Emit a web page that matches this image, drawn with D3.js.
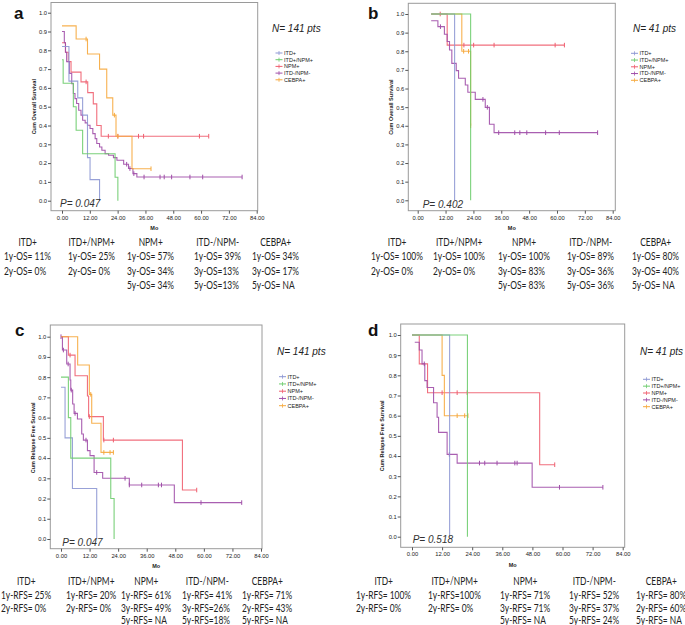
<!DOCTYPE html>
<html><head><meta charset="utf-8">
<script src="https://cdn.jsdelivr.net/npm/d3@7"></script>
<style>
html,body{margin:0;padding:0;background:#fff;}
svg{display:block;}
</style></head>
<body>
<svg id="chart" width="685" height="625"></svg>
<script>
// ---------------- DATA ----------------
const groups = ["ITD+", "ITD+/NPM+", "NPM+", "ITD-/NPM-", "CEBPA+"];
const groupColors = ["#8d97d3", "#6dcc6d", "#ef5f6f", "#a04ea8", "#f6a93d"];
const xTickValues = [0, 12, 24, 36, 48, 60, 72, 84];
const yTickValues = [0, 0.1, 0.2, 0.3, 0.4, 0.5, 0.6, 0.7, 0.8, 0.9, 1.0];
const panelLetters = ["a", "b", "c", "d"];
const panelN = ["N= 141 pts", "N= 41 pts", "N= 141 pts", "N= 41 pts"];
const panelP = ["P= 0.047", "P= 0.402", "P= 0.047", "P= 0.518"];
const panelYTitle = ["Cum Overall Survival", "Cum Overall Survival", "Cum Relapse Free Survival", "Cum Relapse Free Survival"];
const xTitle = "Mo";

// step curves: [time, survival from that time], end time, censor times
// Panel a (OS, 141 pts)
const aITD     = {steps: [[0,0.82],[3,0.636],[6.8,0.547],[8.9,0.455],[11,0.229],[12.1,0.112],[16.2,0]], end: 16.2, censor: []};
const aITDNPM  = {steps: [[0,0.75],[0.5,0.625],[4.9,0.5],[6.1,0.375],[8.9,0.25],[22.9,0.125],[24.1,0]], end: 24.1, censor: []};
const aNPM     = {steps: [[0,0.84],[1.5,0.79],[2.7,0.74],[3.9,0.684],[8.2,0.632],[11.1,0.575],[13.5,0.515],[15,0.40],[16.9,0.343]], end: 63.3, censor: [10.4,20,24.1,33,35.2,59.3,63.3]};
const aWT      = {steps: [[0,0.90],[1,0.84],[1.5,0.79],[2,0.74],[3.2,0.677],[4.2,0.623],[4.9,0.57],[5.6,0.543],[6.3,0.517],[7.2,0.481],[8.2,0.455],[8.9,0.428],[10,0.414],[11,0.401],[12.1,0.384],[13.3,0.357],[14.3,0.33],[15,0.304],[16.2,0.286],[17.2,0.268],[18.6,0.25],[20.1,0.242],[22.2,0.229],[23.7,0.215],[26.6,0.194],[28.7,0.171],[30.6,0.144],[32.3,0.126]], end: 77.7, censor: [27.9,29.3,31,35.4,42.3,44.1,47.3,55.2,60.7,77.7]};
const aCEBPA   = {steps: [[0,0.93],[6.1,0.86],[11,0.78],[16.2,0.70],[19.3,0.547],[21.9,0.455],[23.3,0.343],[30.2,0.17]], end: 38.4, censor: [10.4,22.6,24.1,38.4]};

// Panel b (OS, 41 pts)
const bITD     = {steps: [[5.8,1],[15.9,0]], end: 15.9, censor: []};
const bITDNPM  = {steps: [[5.8,1],[22.8,0]], end: 22.8, censor: []};
const bNPM     = {steps: [[5.8,1],[12.7,0.833]], end: 63.2, censor: [9.7,19.9,24.1,32.9,59.2,63.2]};
const bWT      = {steps: [[5.8,0.964],[8.7,0.932],[11.5,0.891],[12.7,0.852],[13.7,0.807],[14.7,0.735],[16.6,0.696],[17.6,0.655],[20.5,0.619],[21.6,0.58],[24.8,0.542],[29.1,0.499],[30.9,0.408],[32.9,0.363]], end: 77.5, censor: [9.8,28.1,30,34.9,41.8,44,47,55.1,61,77.5]};
const bCEBPA   = {steps: [[5.8,1],[19,0.8],[22.8,0.4]], end: 22.8, censor: [19.8,21.9,22.8]};

// Panel c (RFS, 141 pts)
const cITD     = {steps: [[0,0.75],[1.7,0.5],[4.8,0.25],[15,0]], end: 15, censor: []};
const cITDNPM  = {steps: [[0,0.8],[3.1,0.6],[4.1,0.4],[20.9,0.2],[22.3,0]], end: 22.3, censor: []};
const cNPM     = {steps: [[0,1],[3.1,0.909],[5.9,0.807],[11.1,0.707],[11.6,0.605],[17.8,0.489],[51,0.242]], end: 57, censor: [3.8,11.9,18,22,57]};
const cWT      = {steps: [[0,1],[0.6,0.934],[2.4,0.865],[3.8,0.786],[4.1,0.736],[4.9,0.667],[5.5,0.621],[6.9,0.593],[8.7,0.519],[9.4,0.489],[11.1,0.437],[12.2,0.412],[13.9,0.329],[17.5,0.30],[28.7,0.267],[47.6,0.18]], end: 75.9, censor: [0,1,3,4.3,5.9,10.5,15,26.9,28.7,33.9,40.9,42.2,58.8,75.9]};
const cCEBPA   = {steps: [[0,1],[7,0.86],[11.9,0.715],[12.9,0.572],[16.8,0.428]], end: 22, censor: [12.5,18,20.6,22]};

// Panel d (RFS, 41 pts)
const dITD     = {steps: [[0,1],[15,0]], end: 15, censor: []};
const dITDNPM  = {steps: [[0,1],[22.1,0]], end: 22.1, censor: []};
const dNPM     = {steps: [[0,1],[2.9,0.857],[6.2,0.714],[50.9,0.357]], end: 56.9, censor: [12,18,22,56.9]};
const dWT      = {steps: [[1.1,0.964],[2.9,0.926],[4,0.857],[5.1,0.774],[6,0.74],[8.6,0.664],[10,0.592],[10.6,0.517],[14,0.408],[18,0.365],[47.9,0.245]], end: 76.1, censor: [4.9,14.9,26.9,29,33.9,41,41.9,58.8,76.1]};
const dCEBPA   = {steps: [[0,1],[12,0.8],[12.9,0.6]], end: 22.3, censor: [18,21,22.3]};

// summary lines under each panel (per group, in groups order)
const aSummary = [["1y-OS= 11%","2y-OS= 0%"],["1y-OS= 25%","2y-OS= 0%"],["1y-OS= 57%","3y-OS= 34%","5y-OS= 34%"],["1y-OS= 39%","3y-OS=13%","5y-OS=13%"],["1y-OS= 34%","3y-OS= 17%","5y-OS= NA"]];
const bSummary = [["1y-OS= 100%","2y-OS= 0%"],["1y-OS= 100%","2y-OS= 0%"],["1y-OS= 100%","3y-OS= 83%","5y-OS= 83%"],["1y-OS= 89%","3y-OS= 36%","5y-OS= 36%"],["1y-OS= 80%","3y-OS= 40%","5y-OS= NA"]];
const cSummary = [["1y-RFS= 25%","2y-RFS= 0%"],["1y-RFS= 20%","2y-RFS= 0%"],["1y-RFS= 61%","3y-RFS= 49%","5y-RFS= NA"],["1y-RFS= 41%","3y-RFS=26%","5y-RFS=18%"],["1y-RFS= 71%","2y-RFS= 43%","5y-RFS= NA"]];
const dSummary = [["1y-RFS= 100%","2y-RFS= 0%"],["1y-RFS=100%","2y-RFS= 0%"],["1y-RFS= 71%","3y-RFS= 71%","5y-RFS= NA"],["1y-RFS= 52%","3y-RFS= 37%","5y-RFS= 24%"],["1y-RFS= 80%","2y-RFS= 60%","5y-RFS= NA"]];

// ---------------- LAYOUT ----------------
const panels = [
  {curves:[aITD,aITDNPM,aNPM,aWT,aCEBPA], summary:aSummary,
   frame:[51,2.5,257.7,210.7], xr:[62,256.7], yr:[200.7,12.7],
   letter:[14,19], nPos:[272,31.5], pPos:[60,207], yTitleX:34,
   legend:[275.5,53,6.7], cols:[4,68,127,194,252], rowsY:[242,256.5,271,285.5]},
  {curves:[bITD,bITDNPM,bNPM,bWT,bCEBPA], summary:bSummary,
   frame:[408.3,3.3,615.3,210.7], xr:[417.7,612.7], yr:[200.3,14],
   letter:[368,19], nPos:[633,31.5], pPos:[422.7,208], yTitleX:391,
   legend:[631,53.3,6.75], cols:[371,433,498,567,632], rowsY:[242,256.5,271,285.5]},
  {curves:[cITD,cITDNPM,cNPM,cWT,cCEBPA], summary:cSummary,
   frame:[50.3,325,262,548.7], xr:[61,261], yr:[539,336.7],
   letter:[15,336], nPos:[277,355], pPos:[62.3,545.7], yTitleX:33.3,
   legend:[279,376.7,7.25], cols:[1,66,121,182,242], rowsY:[581,595,608,620]},
  {curves:[dITD,dITDNPM,dNPM,dWT,dCEBPA], summary:dSummary,
   frame:[400.7,324,624.7,547.3], xr:[412,622.7], yr:[536.7,335],
   letter:[368,336], nPos:[640,355], pPos:[412.7,542.7], yTitleX:382,
   legend:[643,379.3,6.85], cols:[356,428,500,569,636], rowsY:[581,595,608,620]}
];
const drawOrder = [2, 3, 4, 0, 1];
const textScaleX = 0.8;

const svg = d3.select("#chart");

function valueAt(curve, t) {
  let v = curve.steps[0][1];
  for (const s of curve.steps) { if (s[0] <= t + 1e-9) v = s[1]; }
  return v;
}

function narrowText(g, x, y, str, anchor) {
  const t = g.append("text").attr("transform", `translate(${x},${y}) scale(${textScaleX},1)`)
    .attr("dy", "0.35em").attr("text-anchor", anchor)
    .attr("font-family", "Lato, sans-serif").attr("font-size", 10.5).attr("fill", "#222").text(str);
  return t;
}

panels.forEach((p, pi) => {
  const g = svg.append("g");
  const x = d3.scaleLinear().domain([0, 84]).range(p.xr);
  const y = d3.scaleLinear().domain([0, 1]).range(p.yr);
  const [fx0, fy0, fx1, fy1] = p.frame;

  // frame
  g.append("rect").attr("x", fx0).attr("y", fy0).attr("width", fx1 - fx0).attr("height", fy1 - fy0)
    .attr("fill", "none").attr("stroke", "#9a9a9a").attr("stroke-width", 1);

  // axes
  const yAxis = g.append("g").attr("transform", `translate(${fx0},0)`)
    .call(d3.axisLeft(y).tickValues(yTickValues).tickFormat(d3.format(".1f")).tickSize(3).tickPadding(1));
  const xAxis = g.append("g").attr("transform", `translate(0,${fy1})`)
    .call(d3.axisBottom(x).tickValues(xTickValues).tickFormat(d3.format(".2f")).tickSize(3).tickPadding(2));
  [yAxis, xAxis].forEach(ax => {
    ax.select(".domain").remove();
    ax.selectAll("line").attr("stroke", "#555");
    ax.selectAll("text").attr("font-family", "Liberation Sans, Arial, sans-serif")
      .attr("font-size", 5.8).attr("fill", "#222");
  });

  // axis titles
  g.append("text").attr("x", (fx0 + fx1) / 2).attr("y", fy1 + 19.5).attr("text-anchor", "middle")
    .attr("font-family", "Liberation Sans, Arial, sans-serif").attr("font-weight", "bold")
    .attr("font-size", 5.5).attr("fill", "#222").text(xTitle);
  const ym = (p.yr[0] + p.yr[1]) / 2;
  g.append("text").attr("transform", `translate(${p.yTitleX},${ym}) rotate(-90)`).attr("text-anchor", "middle")
    .attr("dy", "0.35em")
    .attr("font-family", "Liberation Sans, Arial, sans-serif").attr("font-weight", "bold")
    .attr("font-size", 5.5).attr("fill", "#222").text(panelYTitle[pi]);

  // curves
  const line = d3.line().x(d => x(d[0])).y(d => y(d[1])).curve(d3.curveStepAfter);
  drawOrder.forEach(ci => {
    const c = p.curves[ci];
    const pts = c.steps.slice();
    const last = pts[pts.length - 1];
    if (c.end > last[0]) pts.push([c.end, last[1]]);
    g.append("path").attr("d", line(pts)).attr("fill", "none")
      .attr("stroke", groupColors[ci]).attr("stroke-width", 1.1).attr("stroke-opacity", 0.9);
    g.selectAll(null).data(c.censor).enter().append("line")
      .attr("x1", t => x(t)).attr("x2", t => x(t))
      .attr("y1", t => y(valueAt(c, t)) - 2.3).attr("y2", t => y(valueAt(c, t)) + 2.3)
      .attr("stroke", groupColors[ci]).attr("stroke-width", 1);
  });

  // legend
  const [lx, ly, ls] = p.legend;
  groups.forEach((name, i) => {
    const yy = ly + i * ls;
    g.append("line").attr("x1", lx).attr("x2", lx + 7).attr("y1", yy).attr("y2", yy)
      .attr("stroke", groupColors[i]).attr("stroke-width", 1);
    g.append("line").attr("x1", lx + 3.5).attr("x2", lx + 3.5).attr("y1", yy - 2).attr("y2", yy + 2)
      .attr("stroke", groupColors[i]).attr("stroke-width", 0.8);
    g.append("text").attr("x", lx + 8.5).attr("y", yy).attr("dy", "0.35em")
      .attr("font-family", "Liberation Sans, Arial, sans-serif").attr("font-size", 5.5)
      .attr("fill", "#222").text(name);
  });

  // panel letter, N, P
  g.append("text").attr("x", p.letter[0]).attr("y", p.letter[1])
    .attr("font-family", "Liberation Sans, Arial, sans-serif").attr("font-weight", "bold")
    .attr("font-size", 17).attr("fill", "#111").text(panelLetters[pi]);
  g.append("text").attr("x", p.nPos[0]).attr("y", p.nPos[1])
    .attr("font-family", "Liberation Sans, Arial, sans-serif").attr("font-style", "italic")
    .attr("font-size", 10).attr("fill", "#222").text(panelN[pi]);
  g.append("text").attr("x", p.pPos[0]).attr("y", p.pPos[1])
    .attr("font-family", "Liberation Sans, Arial, sans-serif").attr("font-style", "italic")
    .attr("font-size", 10).attr("fill", "#333").text(panelP[pi]);

  // summary table: data lines left-aligned, header centred over them
  groups.forEach((name, i) => {
    const lines = p.summary[i].map((s, j) => narrowText(g, p.cols[i], p.rowsY[j + 1], s, "start"));
    const w = d3.max(lines, l => l.node().getBBox().width) * textScaleX;
    narrowText(g, p.cols[i] + w / 2, p.rowsY[0], name, "middle");
  });
});
</script>
</body></html>
